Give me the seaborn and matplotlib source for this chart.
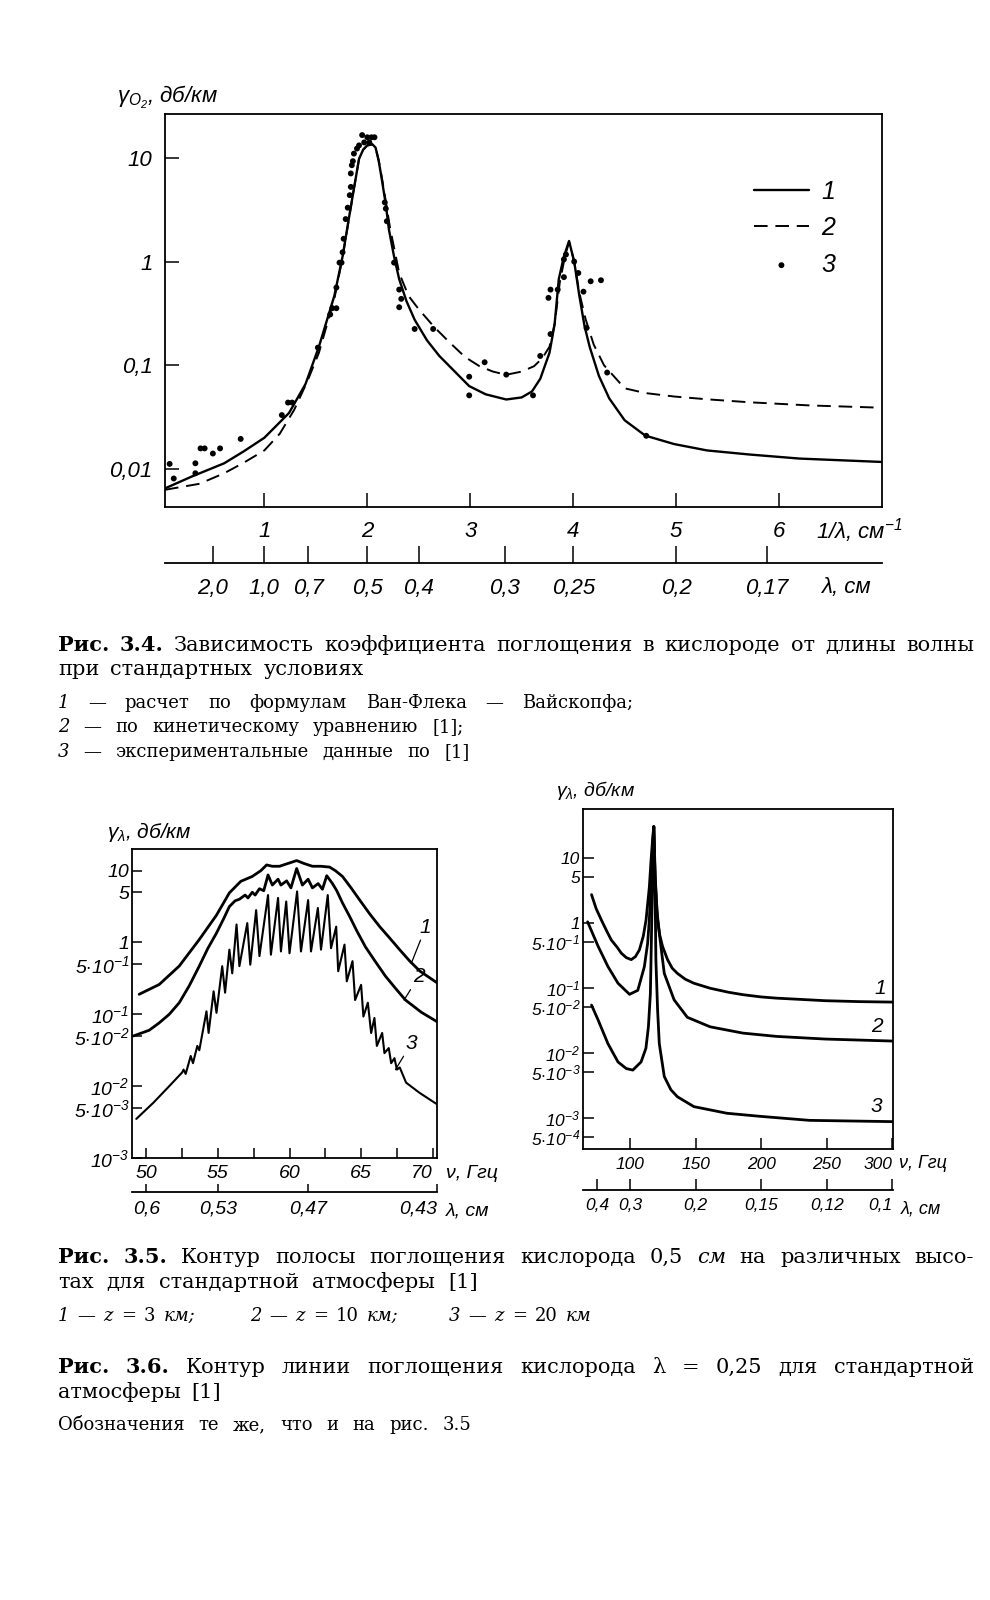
import numpy as np
import matplotlib
matplotlib.use("Agg")
import matplotlib.pyplot as plt
from matplotlib import font_manager as fm
from matplotlib.ticker import NullLocator
import seaborn as sns

# ---------------- Fig. 3.4 data (1/lambda in cm^-1, gamma in dB/km) ----------------
inv_cm_calc = [0.035, 0.3, 0.61, 0.8, 1.0, 1.24, 1.4, 1.53, 1.68, 1.76, 1.83, 1.88, 1.92, 1.96,
               2.0, 2.05, 2.08, 2.11, 2.14, 2.18, 2.21, 2.26, 2.31, 2.38, 2.46, 2.58, 2.70, 2.85,
               2.99, 3.15, 3.35, 3.50, 3.60, 3.68, 3.77, 3.82, 3.86, 3.91, 3.96, 4.01, 4.06, 4.11,
               4.16, 4.25, 4.35, 4.50, 4.70, 4.98, 5.30, 5.71, 6.2, 6.99]
gamma_calc = [0.0065, 0.0085, 0.01135, 0.0148, 0.020, 0.0347, 0.066, 0.151, 0.468, 1.12, 2.95,
              5.75, 9.8, 12.0, 13.2, 13.5, 12.6, 9.5, 6.3, 3.55, 2.04, 1.12, 0.676, 0.417, 0.275,
              0.174, 0.123, 0.087, 0.063, 0.0525, 0.0468, 0.049, 0.056, 0.074, 0.132, 0.25, 0.676,
              1.12, 1.58, 1.0, 0.468, 0.24, 0.151, 0.079, 0.048, 0.0295, 0.021, 0.0174, 0.0151,
              0.0138, 0.0126, 0.0117]

inv_cm_kin = [0.035, 0.37, 0.61, 0.8, 1.0, 1.15, 1.29, 1.42, 1.53, 1.68, 1.76, 1.83, 1.88, 1.92,
              1.96, 2.0, 2.05, 2.08, 2.11, 2.14, 2.18, 2.22, 2.31, 2.40, 2.5, 2.65, 2.8, 2.95, 3.09,
              3.22, 3.35, 3.50, 3.62, 3.70, 3.77, 3.82, 3.87, 3.92, 3.96, 4.01, 4.06, 4.12, 4.2, 4.3,
              4.5, 4.7, 4.98, 5.3, 5.71, 6.3, 6.99]
gamma_kin = [0.0063, 0.0072, 0.0091, 0.0115, 0.0151, 0.0219, 0.0372, 0.0708, 0.132, 0.437, 1.10,
             2.88, 5.75, 9.8, 12.0, 13.2, 13.5, 12.6, 9.5, 6.6, 3.8, 2.14, 0.776, 0.468, 0.347,
             0.234, 0.166, 0.120, 0.098, 0.087, 0.081, 0.087, 0.098, 0.117, 0.151, 0.25, 0.63,
             1.12, 1.55, 1.0, 0.50, 0.28, 0.158, 0.10, 0.060, 0.054, 0.050, 0.047, 0.044, 0.041,
             0.039]

inv_cm_exp = [0.08, 0.12, 0.33, 0.33, 0.38, 0.42, 0.50, 0.57, 0.77, 1.17, 1.23, 1.27, 1.52, 1.64,
              1.66, 1.70, 1.70, 1.73, 1.75, 1.76, 1.77, 1.79, 1.81, 1.83, 1.84, 1.84, 1.85, 1.86,
              1.87, 1.90, 1.92, 1.95, 1.97, 2.0, 2.02, 2.04, 2.07, 2.17, 2.18, 2.19, 2.26, 2.31,
              2.33, 2.31, 2.46, 2.64, 2.99, 2.99, 3.14, 3.35, 3.61, 3.68, 3.78, 3.76, 3.78, 3.85,
              3.91, 3.91, 3.93, 4.01, 4.05, 4.10, 4.13, 4.17, 4.27, 4.33, 4.71]
gamma_exp = [0.0112, 0.0081, 0.01135, 0.0091, 0.0158, 0.0158, 0.0141, 0.0158, 0.0195, 0.0331,
             0.0437, 0.0437, 0.148, 0.309, 0.355, 0.355, 0.562, 0.977, 0.977, 1.23, 1.66, 2.57,
             3.31, 4.37, 5.25, 7.08, 8.5, 9.3, 11.0, 12.3, 13.2, 16.6, 14.1, 15.8, 14.1, 15.8,
             15.8, 3.72, 3.24, 2.45, 0.977, 0.537, 0.437, 0.363, 0.224, 0.224, 0.0776, 0.0513,
             0.107, 0.0813, 0.0513, 0.123, 0.20, 0.447, 0.537, 0.537, 0.708, 1.05, 1.17, 1.0,
             0.776, 0.513, 0.229, 0.646, 0.661, 0.0851, 0.0209]

top_xticks = [1, 2, 3, 4, 5, 6]
top_yticks = [10, 1, 0.1, 0.01]
top_ylabels = ["10", "1", "0,1", "0,01"]
lam_ticks_top = [2.0, 1.0, 0.7, 0.5, 0.4, 0.3, 0.25, 0.2, 0.17]
lam_labels_top = ["2,0", "1,0", "0,7", "0,5", "0,4", "0,3", "0,25", "0,2", "0,17"]

# ---------------- Fig. 3.5 data (nu in GHz) ----------------
nu_b1 = [49.5, 50.9, 52.3, 53.7, 54.9, 55.8, 56.6, 57.4, 58.0, 58.4, 58.8, 59.3, 59.9, 60.5,
         61.0, 61.6, 62.2, 62.8, 63.2, 63.7, 64.3, 64.9, 65.6, 66.3, 67.0, 67.7, 68.4, 69.1, 70.3]
g_b1 = [0.19, 0.26, 0.47, 1.10, 2.4, 4.9, 7.1, 8.3, 10.0, 12.0, 11.5, 11.5, 12.6, 13.8, 12.6,
        11.5, 11.5, 11.2, 10.0, 8.3, 5.75, 3.9, 2.5, 1.66, 1.15, 0.79, 0.55, 0.40, 0.275]

nu_b2 = [49.1, 50.2, 50.9, 51.6, 52.3, 53.0, 53.7, 54.3, 54.9, 55.4, 55.8, 56.2, 56.5, 56.9,
         57.1, 57.4, 57.6, 57.9, 58.2, 58.5, 58.8, 59.2, 59.4, 59.8, 60.1, 60.5, 60.9, 61.3,
         61.6, 62.0, 62.3, 62.6, 63.0, 63.3, 63.7, 64.2, 64.7, 65.3, 66.0, 66.7, 67.4, 68.1,
         69.2, 70.3]
g_b2 = [0.050, 0.060, 0.076, 0.10, 0.145, 0.25, 0.47, 0.83, 1.35, 2.14, 3.16, 3.8, 4.0, 4.57,
        4.17, 5.0, 4.57, 5.6, 5.25, 8.7, 6.3, 7.6, 6.3, 7.2, 5.75, 10.7, 6.3, 7.6, 5.75, 6.6,
        5.5, 8.5, 6.6, 5.25, 3.55, 2.3, 1.45, 0.87, 0.54, 0.34, 0.23, 0.158, 0.107, 0.079]

nu_b3 = [49.3, 50.5, 51.6, 52.5, 52.6, 52.75, 53.1, 53.26, 53.56, 53.7, 54.2, 54.35, 54.7, 54.9,
         55.3, 55.5, 55.8, 56.0, 56.3, 56.5, 57.05, 57.26, 57.67, 57.9, 58.5, 58.7, 59.2, 59.4,
         59.77, 60.0, 60.53, 60.8, 61.3, 61.5, 61.98, 62.2, 62.67, 62.9, 63.26, 63.4, 63.84,
         64.0, 64.4, 64.58, 65.0, 65.16, 65.47, 65.7, 65.93, 66.1, 66.47, 66.63, 66.93, 67.1,
         67.33, 67.5, 67.7, 68.14, 69.07, 70.3]
g_b3 = [0.0035, 0.0059, 0.010, 0.0155, 0.017, 0.0148, 0.0263, 0.0209, 0.0363, 0.0316, 0.11,
        0.055, 0.209, 0.105, 0.468, 0.20, 0.794, 0.372, 1.78, 0.468, 1.86, 0.49, 2.82, 0.646,
        4.57, 0.676, 4.17, 0.75, 3.72, 0.708, 5.13, 0.75, 3.89, 0.75, 3.02, 0.794, 4.57, 0.832,
        1.66, 0.398, 0.933, 0.288, 0.55, 0.158, 0.257, 0.093, 0.145, 0.055, 0.089, 0.0363,
        0.055, 0.0288, 0.0339, 0.0209, 0.0245, 0.017, 0.0182, 0.0112, 0.0081, 0.0056]

b_xticks = [50, 55, 60, 65, 70]
b_xminor = [52.5, 57.5, 62.5, 67.5]
b_yticks = [10, 5, 1, 0.5, 0.1, 0.05, 0.01, 0.005, 0.001]
b_ylabels = ["10", "5", "1", r"$5{\cdot}10^{-1}$", r"$10^{-1}$", r"$5{\cdot}10^{-2}$",
             r"$10^{-2}$", r"$5{\cdot}10^{-3}$", r"$10^{-3}$"]
b_lam_pos = [50, 55, 61.3, 70.3]
b_lam_labels = ["0,6", "0,53", "0,47", "0,43"]

# ---------------- Fig. 3.6 data (nu in GHz) ----------------
nu_r1 = [70.5, 74, 78, 82, 85.6, 90, 93.2, 97, 100.8, 104, 107, 110, 112.1, 114.6, 115.9, 117.0,
         118.0, 118.4, 118.9, 120.9, 122.5, 124.7, 128.5, 132, 136, 142, 148.6, 161, 175, 186,
         200, 211.6, 230, 249, 275, 300]
g_r1 = [2.7, 1.65, 1.1, 0.75, 0.54, 0.42, 0.34, 0.29, 0.27, 0.30, 0.38, 0.62, 1.1, 3.5, 9.0, 18,
        30, 14, 5.1, 1.1, 0.65, 0.43, 0.27, 0.20, 0.166, 0.135, 0.117, 0.098, 0.085, 0.078,
        0.072, 0.069, 0.066, 0.063, 0.061, 0.060]

nu_r2 = [67.5, 75.6, 83.1, 90.7, 99.5, 105.8, 110.8, 113.3, 114.6, 115.9, 117.1, 118.0, 119.1,
         120.4, 122.2, 126, 133.5, 143.6, 161, 186, 211.6, 249, 300]
g_r2 = [1.03, 0.43, 0.21, 0.117, 0.079, 0.091, 0.21, 0.48, 1.1, 3.5, 16, 30, 5.1, 1.55, 0.69,
        0.166, 0.065, 0.035, 0.025, 0.020, 0.0178, 0.0162, 0.0151]

nu_r3 = [70.5, 75.6, 83, 90.7, 97, 102, 108.3, 112, 113.9, 115.4, 116.6, 117.4, 118.0, 118.9,
         119.6, 120.9, 122.2, 126, 131, 136, 148.6, 173.8, 199, 236.8, 300]
g_r3 = [0.054, 0.0316, 0.0138, 0.0072, 0.0057, 0.0054, 0.0072, 0.0117, 0.025, 0.081, 1.55, 9.2,
        30, 5.1, 0.27, 0.046, 0.0138, 0.0043, 0.0027, 0.0021, 0.00148, 0.00117, 0.00105,
        0.00091, 0.00087]

r_xticks = [100, 150, 200, 250, 300]
r_yticks = [10, 5, 1, 0.5, 0.1, 0.05, 0.01, 0.005, 0.001, 0.0005]
r_ylabels = ["10", "5", "1", r"$5{\cdot}10^{-1}$", r"$10^{-1}$", r"$5{\cdot}10^{-2}$",
             r"$10^{-2}$", r"$5{\cdot}10^{-3}$", r"$10^{-3}$", r"$5{\cdot}10^{-4}$"]
r_lam_ticks = [0.4, 0.3, 0.2, 0.15, 0.12, 0.1]
r_lam_labels = ["0,4", "0,3", "0,2", "0,15", "0,12", "0,1"]

# ---------------- style ----------------
sns.set_theme(style="ticks")
names = {f.name for f in fm.fontManager.ttflist}
SANS = "Liberation Sans" if "Liberation Sans" in names else "DejaVu Sans"
SERIF = "DejaVu Serif"
plt.rcParams.update({
    "font.family": [SANS, "DejaVu Sans"],
    "font.style": "italic",
    "mathtext.fontset": "custom",
    "mathtext.rm": SANS,
    "mathtext.it": SANS + ":italic",
    "mathtext.bf": SANS + ":bold",
    "mathtext.default": "it",
    "axes.edgecolor": "black",
    "axes.linewidth": 1.2,
    "axes.facecolor": "white",
    "figure.facecolor": "white",
    "xtick.color": "black",
    "ytick.color": "black",
    "text.color": "black",
})

W, H = 990, 1600
fig = plt.figure(figsize=(W / 100, H / 100), dpi=100)


def box(l, t, r, b):
    return [l / W, 1 - b / H, (r - l) / W, (b - t) / H]


def ftext(x, y, s, **kw):
    return fig.text(x / W, 1 - y / H, s, **kw)


# ================= Fig 3.4 =================
ax = fig.add_axes(box(165, 114, 882, 507))
sns.lineplot(x=inv_cm_calc, y=gamma_calc, ax=ax, color="black", lw=1.7, label="1",
             sort=False, estimator=None)
sns.lineplot(x=inv_cm_kin, y=gamma_kin, ax=ax, color="black", lw=1.4, label="2",
             sort=False, estimator=None, linestyle=(0, (7, 4)))
sns.scatterplot(x=inv_cm_exp, y=gamma_exp, ax=ax, color="black", s=18, edgecolor="none",
                label="3")
ax.set_yscale("log")
ax.set_xlim(0.035, 7.0)
ax.set_ylim(0.0043, 26.5)
ax.set_xticks(top_xticks)
ax.set_xticklabels([str(v) for v in top_xticks])
ax.set_yticks(top_yticks)
ax.set_yticklabels(top_ylabels)
ax.yaxis.set_minor_locator(NullLocator())
ax.xaxis.set_minor_locator(NullLocator())
ax.tick_params(axis="both", direction="in", length=10, width=1.1, labelsize=16)
ax.tick_params(axis="x", pad=10)
ax.tick_params(axis="y", pad=9)
ax.set_xlabel("")
ax.set_ylabel("")
for sp in ax.spines.values():
    sp.set_visible(True)
    sp.set_linewidth(1.3)
ax.legend(loc="upper left", bbox_to_anchor=(0.79, 0.89), frameon=False, handlelength=2.2,
          handletextpad=0.5, labelspacing=0.5,
          prop={"family": [SANS, "DejaVu Sans"], "style": "italic", "size": 18})


def recip(x):
    x = np.asarray(x, dtype=float)
    with np.errstate(divide="ignore", invalid="ignore"):
        return 1.0 / x


sec = ax.secondary_xaxis(-0.143, functions=(recip, recip))
sec.set_xticks(lam_ticks_top)
sec.set_xticklabels(lam_labels_top)
sec.xaxis.set_minor_locator(NullLocator())
sec.xaxis.set_ticks_position("bottom")
sec.tick_params(axis="x", direction="in", length=12, width=1.1, labelsize=16, pad=11)
sec.spines["bottom"].set_linewidth(1.3)

ftext(117, 97, r"$\gamma_{O_2}$, дб/км", fontsize=16, va="center", ha="left")
ftext(816, 531, r"1/λ, см$^{-1}$", fontsize=16, va="center", ha="left")
ftext(821, 587, "λ, см", fontsize=16, va="center", ha="left")

# ================= Fig 3.5 =================
ax2 = fig.add_axes(box(132, 849, 437, 1158))
sns.lineplot(x=nu_b1, y=g_b1, ax=ax2, color="black", lw=2.0, sort=False, estimator=None)
sns.lineplot(x=nu_b2, y=g_b2, ax=ax2, color="black", lw=2.0, sort=False, estimator=None)
sns.lineplot(x=nu_b3, y=g_b3, ax=ax2, color="black", lw=1.5, sort=False, estimator=None)
ax2.set_yscale("log")
ax2.set_xlim(49.0, 70.3)
ax2.set_ylim(0.001, 20)
ax2.set_xticks(b_xticks)
ax2.set_xticklabels([str(v) for v in b_xticks])
ax2.set_xticks(b_xminor, minor=True)
ax2.set_yticks(b_yticks)
ax2.set_yticklabels(b_ylabels)
ax2.yaxis.set_minor_locator(NullLocator())
ax2.tick_params(axis="both", which="both", direction="in", length=7, width=1.1, labelsize=14)
ax2.tick_params(axis="x", pad=5)
ax2.tick_params(axis="y", pad=2)
ax2.get_xticklabels()[-1].set_ha("right")
ax2.set_xlabel("")
ax2.set_ylabel("")
for sp in ax2.spines.values():
    sp.set_visible(True)
    sp.set_linewidth(1.3)
for lab, (x0, y0), (x1, y1) in [("1", (68.5, 0.51), (69.1, 1.2)),
                                 ("2", (68.0, 0.158), (68.6, 0.245)),
                                 ("3", (67.4, 0.017), (68.1, 0.029))]:
    ax2.annotate(lab, xy=(x0, y0), xytext=(x1, y1), fontsize=15, ha="left", va="bottom",
                 arrowprops=dict(arrowstyle="-", color="black", lw=0.9, shrinkA=0, shrinkB=0))

sec2 = ax2.secondary_xaxis(-0.11)
sec2.set_xticks(b_lam_pos)
sec2.set_xticklabels(b_lam_labels)
sec2.xaxis.set_minor_locator(NullLocator())
sec2.xaxis.set_ticks_position("bottom")
sec2.tick_params(axis="x", direction="in", length=6, width=1.1, labelsize=14, pad=6)
sec2.get_xticklabels()[-1].set_ha("right")
sec2.spines["bottom"].set_linewidth(1.3)

ftext(107, 832, r"$\gamma_\lambda$, дб/км", fontsize=15, va="center", ha="left")
ftext(446, 1173, "ν, Ггц", fontsize=14, va="center", ha="left")
ftext(446, 1211, "λ, см", fontsize=14, va="center", ha="left")

# ================= Fig 3.6 =================
ax3 = fig.add_axes(box(583, 809, 893, 1149))
for xs, ys in [(nu_r1, g_r1), (nu_r2, g_r2), (nu_r3, g_r3)]:
    sns.lineplot(x=xs, y=ys, ax=ax3, color="black", lw=2.0, sort=False, estimator=None)
ax3.set_yscale("log")
ax3.set_xlim(64, 300.5)
ax3.set_ylim(3.3e-4, 56)
ax3.set_xticks(r_xticks)
ax3.set_xticklabels([str(v) for v in r_xticks])
ax3.xaxis.set_minor_locator(NullLocator())
ax3.set_yticks(r_yticks)
ax3.set_yticklabels(r_ylabels)
ax3.yaxis.set_minor_locator(NullLocator())
ax3.tick_params(axis="both", direction="in", length=8, width=1.1, labelsize=12.5)
ax3.tick_params(axis="x", pad=6)
ax3.tick_params(axis="y", pad=2)
ax3.get_xticklabels()[-1].set_ha("right")
ax3.set_xlabel("")
ax3.set_ylabel("")
for sp in ax3.spines.values():
    sp.set_visible(True)
    sp.set_linewidth(1.3)
for lab, xv, yv in [("1", 291, 0.098), ("2", 288, 0.025), ("3", 288, 0.00148)]:
    ax3.text(xv, yv, lab, fontsize=15, ha="center", va="center")


def to_lam(x):
    x = np.asarray(x, dtype=float)
    with np.errstate(divide="ignore", invalid="ignore"):
        return 30.0 / x


sec3 = ax3.secondary_xaxis(-0.12, functions=(to_lam, to_lam))
sec3.set_xticks(r_lam_ticks)
sec3.set_xticklabels(r_lam_labels)
sec3.xaxis.set_minor_locator(NullLocator())
sec3.xaxis.set_ticks_position("bottom")
sec3.tick_params(axis="x", direction="in", length=8, width=1.1, labelsize=12.5, pad=6)
sec3.get_xticklabels()[-1].set_ha("right")
sec3.spines["bottom"].set_linewidth(1.3)

ftext(556, 791, r"$\gamma_\lambda$, дб/км", fontsize=14, va="center", ha="left")
ftext(899, 1164, "ν, Ггц", fontsize=13, va="center", ha="left")
ftext(901, 1209, "λ, см", fontsize=13, va="center", ha="left")

# ================= captions =================
renderer = fig.canvas.get_renderer()
SERIF_FAM = [SERIF, "DejaVu Sans"]


def line(y, segs, x0, x1=None, size=15, gap=None):
    items = []
    for txt, wt, st in segs:
        t = ftext(0, y, txt, fontsize=size, family=SERIF_FAM, weight=wt, style=st,
                  va="baseline", ha="left")
        items.append((t, t.get_window_extent(renderer=renderer).width))
    total = sum(w for _, w in items)
    if x1 is not None and len(items) > 1:
        g = (x1 - x0 - total) / (len(items) - 1)
    else:
        g = gap if gap is not None else size * 0.5
    x = x0
    for t, w in items:
        t.set_x(x / W)
        x += w + g


def words(s, wt="normal", st="normal"):
    return [(w, wt, st) for w in s.split()]


N, B, I = "normal", "bold", "italic"
line(651, words("Рис. 3.4.", B) + words("Зависимость коэффициента поглощения в кислороде от длины волны"), 58, 974)
line(675, words("при стандартных условиях"), 58, gap=11)
line(708, [("1", N, I)] + words("— расчет по формулам Ван-Флека — Вайскопфа;"), 58, 633, size=13)
line(732, [("2", N, I)] + words("— по кинетическому уравнению [1];"), 58, size=13, gap=14)
line(757, [("3", N, I)] + words("— экспериментальные данные по [1]"), 58, size=13, gap=14)

line(1263, words("Рис. 3.5.", B) + words("Контур полосы поглощения кислорода 0,5") + [("см", N, I)]
     + words("на различных высо-"), 58, 974)
line(1288, words("тах для стандартной атмосферы [1]"), 58, gap=13)
line(1321, [("1", N, I), ("—", N, N), ("z", N, I), ("=", N, N), ("3", N, N), ("км;", N, I)], 58, size=13, gap=8)
line(1321, [("2", N, I), ("—", N, N), ("z", N, I), ("=", N, N), ("10", N, N), ("км;", N, I)], 250, size=13, gap=8)
line(1321, [("3", N, I), ("—", N, N), ("z", N, I), ("=", N, N), ("20", N, N), ("км", N, I)], 449, size=13, gap=8)

line(1373, words("Рис. 3.6.", B) + words("Контур линии поглощения кислорода λ = 0,25 для стандартной"), 58, 974)
line(1398, words("атмосферы [1]"), 58, gap=10)
line(1430, words("Обозначения те же, что и на рис. 3.5"), 58, size=13, gap=14)

fig.savefig("out.png", dpi=100, facecolor="white")
